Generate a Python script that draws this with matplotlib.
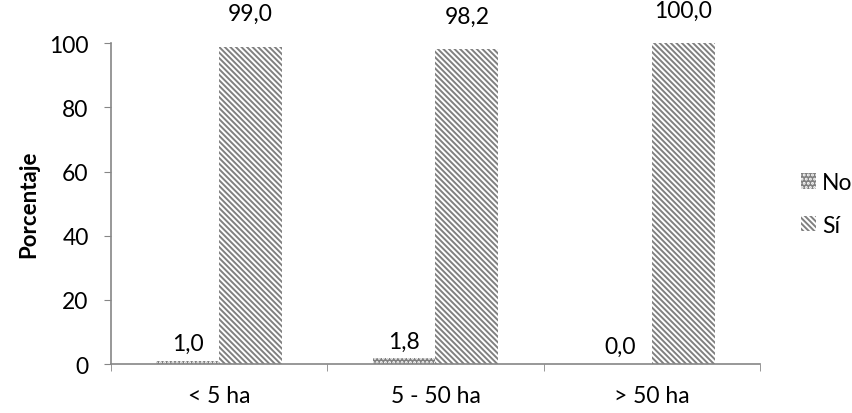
import numpy as np
import matplotlib
matplotlib.use("Agg")
import matplotlib.pyplot as plt
from matplotlib.patches import Patch

categories = ["< 5 ha", "5 - 50 ha", "> 50 ha"]
no_vals = [1.0, 1.8, 0.0]
si_vals = [99.0, 98.2, 100.0]
series_names = ["No", "Sí"]

plt.rcParams["font.family"] = ["Lato", "DejaVu Sans"]
plt.rcParams["hatch.linewidth"] = 1.4

axis_grey = "#868686"
hatch_grey = "#808080"
hatch_si = "\\" * 6
fs = 16.5

fig = plt.figure(figsize=(8.53, 4.14), dpi=100)
ax = fig.add_axes([0.130, 0.118, 0.761, 0.775])

x = np.arange(len(categories))
w = 0.29

bars_no = ax.bar(x - w / 2, no_vals, w, facecolor=hatch_grey, edgecolor="white",
                 hatch="....", linewidth=0)
bars_si = ax.bar(x + w / 2, si_vals, w, facecolor="white", edgecolor=hatch_grey,
                 hatch=hatch_si, linewidth=0)

# value labels, formatted with decimal comma
for bars, vals in [(bars_no, no_vals), (bars_si, si_vals)]:
    for b, v in zip(bars, vals):
        off = 16 if v > 50 else 5
        ax.annotate(f"{v:.1f}".replace(".", ","),
                    (b.get_x() + b.get_width() / 2, v),
                    xytext=(0, off), textcoords="offset points",
                    ha="center", va="bottom", fontsize=fs)

ax.set_xlim(-0.5, len(categories) - 0.5)
ax.set_ylim(0, 100)
ax.set_yticks(range(0, 101, 20))
ax.set_xticks(x)
ax.set_xticklabels(categories)
ax.set_xticks(np.arange(-0.5, len(categories), 1), minor=True)
ax.tick_params(axis="x", which="major", length=0, pad=15, labelsize=fs)
ax.tick_params(axis="x", which="minor", length=5, color=axis_grey, direction="out")
ax.tick_params(axis="y", length=5, color=axis_grey, labelsize=fs, pad=11)

for s in ["top", "right"]:
    ax.spines[s].set_visible(False)
for s in ["left", "bottom"]:
    ax.spines[s].set_color(axis_grey)
    ax.spines[s].set_linewidth(1.2)

ax.set_ylabel("Porcentaje", fontsize=16, fontweight="bold", labelpad=7)

handles = [Patch(facecolor=hatch_grey, edgecolor="white", hatch="....", linewidth=0),
           Patch(facecolor="white", edgecolor=hatch_grey, hatch=hatch_si, linewidth=0)]
fig.legend(handles, series_names, loc="center left", bbox_to_anchor=(0.915, 0.505),
           frameon=False, fontsize=fs, handlelength=0.65, handleheight=0.65,
           handletextpad=0.25, labelspacing=0.95)

fig.savefig("out.png", dpi=100)
